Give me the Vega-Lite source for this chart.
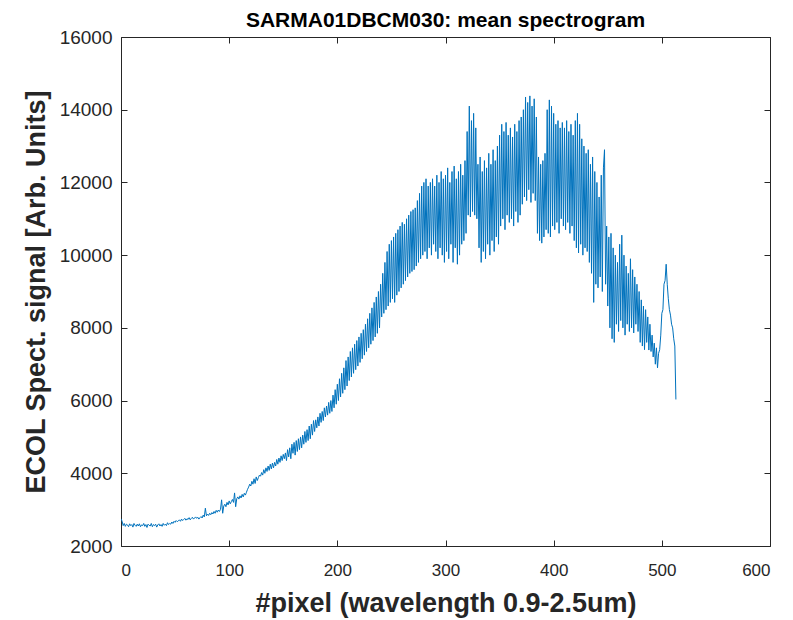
{
  "$schema": "https://vega.github.io/schema/vega-lite/v6.json",
  "width": 649,
  "height": 509,
  "autosize": {"type": "none"},
  "padding": {"left": 121, "top": 37, "right": 23, "bottom": 74},
  "background": "white",
  "config": {
    "view": {"stroke": null},
    "font": "Liberation Sans",
    "axis": {"grid": false, "domainColor": "#262626", "tickColor": "#262626", "labelColor": "#262626", "titleColor": "#262626", "labelFont": "Liberation Sans", "titleFont": "Liberation Sans", "domainWidth": 1, "tickWidth": 1}
  },
  "title": {"text": "SARMA01DBCM030: mean spectrogram", "fontSize": 21, "fontWeight": "bold", "font": "Liberation Sans", "color": "#000000", "anchor": "middle", "offset": -3},
  "data": {"values": []},
  "datasets": {
    "s": [2750,2680,2560,2620,2540,2600,2580,2530,2610,2560,
2590,2520,2620,2570,2540,2600,2550,2610,2530,2580,
2560,2620,2540,2590,2510,2600,2570,2550,2620,2530,
2590,2560,2600,2520,2580,2610,2550,2590,2540,2620,
2570,2600,2560,2640,2590,2620,2600,2660,2620,2680,
2650,2700,2670,2690,2720,2680,2740,2700,2730,2760,
2710,2750,2730,2780,2720,2760,2790,2740,2770,2800,
2760,2790,2740,2780,2810,2770,2850,2800,3040,2830,
2880,2840,2900,2860,2920,2880,2950,2900,2980,2930,
2990,2950,3010,3270,2900,3100,3150,3080,3200,3130,
3240,3160,3220,3280,3200,3460,3080,3300,3350,3290,
3380,3320,3420,3350,3450,3400,3480,3560,3620,3700,
3650,3780,3700,3850,3720,3900,3800,3880,3950,3920,
4020,3950,4100,4000,4150,4050,4200,4080,4250,4120,
4280,4150,4300,4200,4380,4250,4420,4300,4480,4350,
4520,4400,4560,4350,4650,4450,4700,4400,4800,4550,
4850,4500,4900,4600,4950,4650,5000,4700,5050,4800,
5150,4850,5200,4900,5300,4950,5350,5050,5450,5150,
5470,5250,5550,5300,5650,5400,5700,5450,5800,5550,
5850,5600,5950,5650,6000,5700,6150,5800,6300,5900,
6450,6000,6600,6100,6750,6200,6900,6300,7100,6400,
7200,6550,7350,6650,7450,6750,7550,6850,7650,6950,
7750,7050,7850,7150,7950,7250,8100,7350,8250,7450,
8400,7550,8550,7650,8700,7750,8850,7850,9000,8000,
9200,8300,9500,8400,9800,8500,10100,8600,10300,8700,
10400,8800,10500,8700,10600,8900,10700,9000,10800,9100,
10900,9200,10850,9300,11000,9400,11100,9500,11200,9550,
11250,9600,11300,9700,11500,9800,11700,9900,11900,10000,
12000,10100,12100,9900,11900,10200,12000,10000,12100,10300,
11900,10100,12200,9900,12000,10200,12300,10000,12100,9800,
12200,10100,12400,9900,12000,10300,12300,9800,12450,10200,
12100,9750,12300,10000,12500,10300,12200,10400,12600,10600,
13400,11100,14100,11050,13700,11200,13900,11100,13500,11000,
12500,10200,12700,9800,12300,10100,12600,9900,12400,10300,
12800,10000,12500,10400,12900,10100,12600,10500,13000,10300,
13300,10800,13600,11000,13400,10700,13650,11100,13300,10900,
13500,11000,13250,10800,13600,11200,13400,10900,13700,11100,
13800,11400,14000,11600,14350,11500,14200,11800,14380,11450,
14100,11700,14300,11500,13800,10600,12700,10400,12500,10330,
12600,10500,12800,10700,14000,10600,14270,10500,14100,10800,
13900,10700,13600,10900,13700,10600,13500,11000,13650,10800,
13500,10700,13700,10900,13400,10600,13600,10800,13300,10400,
13700,10200,13900,10060,13600,10300,13200,10000,13000,10200,
12800,10100,12900,9800,12500,9500,12700,8700,12300,9200,
12000,9100,11600,9400,12200,9000,12400,12900,9200,10800,
8600,10500,8000,10600,7700,10200,7600,10000,8100,9800,
7900,10300,8200,10550,8000,10000,7800,9700,8100,9500,
7900,9900,8000,9600,7860,9400,8100,9200,7900,9000,
7600,8770,7500,8600,7400,8500,7600,8300,7390,8100,
7350,7800,7200,7580,7000,7450,6900,7300,7400,7800,
8400,8500,9200,9300,9750,9200,8800,8500,8350,8100,
8000,7700,7500,6030]
  },
  "layer": [
    {
      "data": {"name": "s"},
      "transform": [{"window": [{"op": "row_number", "as": "n"}]}, {"calculate": "datum.n - 1", "as": "pixel"}],
      "mark": {"type": "line", "color": "#0072BD", "strokeWidth": 1, "clip": true},
      "encoding": {
        "x": {"field": "pixel", "type": "quantitative", "scale": {"domain": [0, 600], "nice": false, "zero": false},
          "axis": {"orient": "bottom", "values": [0,100,200,300,400,500,600], "format": "d", "tickSize": -6, "labelPadding": 22, "labelFontSize": 17, "labelFont": "'Liberation Sans Narrow', 'Liberation Sans'", "title": "#pixel (wavelength 0.9-2.5um)", "titleFontSize": 27, "titleFontWeight": "bold", "titlePadding": 12}},
        "y": {"field": "data", "type": "quantitative", "scale": {"domain": [2000, 16000], "nice": false, "zero": false},
          "axis": {"orient": "left", "values": [2000,4000,6000,8000,10000,12000,14000,16000], "format": "d", "tickSize": -6, "labelPadding": 15, "labelFontSize": 19, "title": "ECOL Spect. signal [Arb. Units]", "titleFontSize": 27, "titleFontWeight": "bold", "titlePadding": 9}}
      }
    },
    {
      "data": {"name": "s"},
      "transform": [{"window": [{"op": "row_number", "as": "n"}]}, {"calculate": "datum.n - 1", "as": "pixel"}],
      "mark": {"type": "line", "opacity": 0},
      "encoding": {
        "x": {"field": "pixel", "type": "quantitative", "axis": {"orient": "top", "values": [0,100,200,300,400,500,600], "labels": false, "tickSize": -6, "title": null}},
        "y": {"field": "data", "type": "quantitative", "axis": {"orient": "right", "values": [2000,4000,6000,8000,10000,12000,14000,16000], "labels": false, "tickSize": -6, "title": null}}
      }
    }
  ],
  "resolve": {"axis": {"x": "independent", "y": "independent"}}
}
